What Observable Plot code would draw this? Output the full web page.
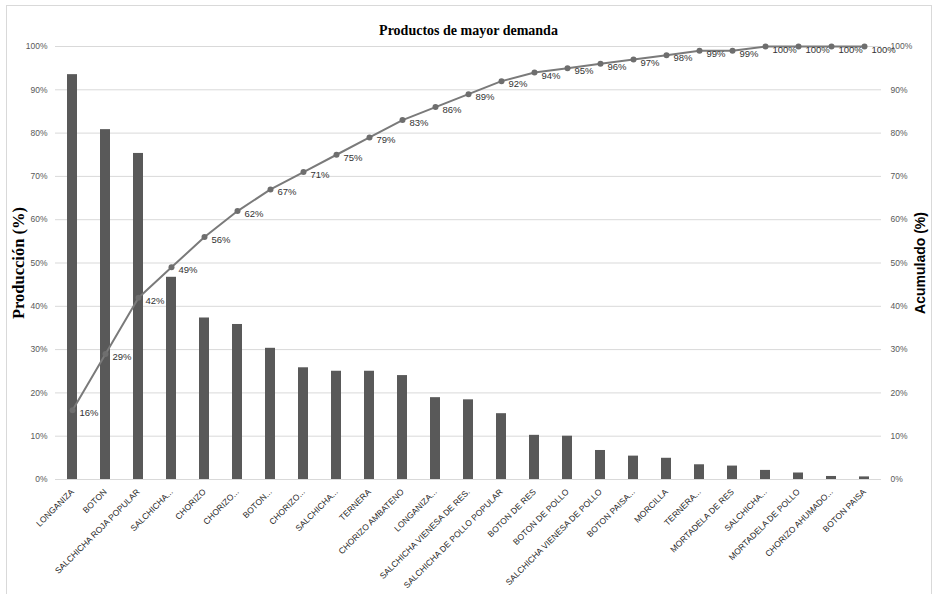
<!DOCTYPE html>
<html>
<head>
<meta charset="utf-8">
<script src="https://cdn.jsdelivr.net/npm/d3@7"></script>
<script src="https://cdn.jsdelivr.net/npm/@observablehq/plot@0.6"></script>
<style>
  html, body { margin: 0; padding: 0; background: #fff; }
  #wrap { position: relative; width: 935px; height: 594px; overflow: hidden; }
  #border { position: absolute; left: 6px; top: 5px; width: 926px; height: 600px; border: 1px solid #d9d9d9; box-sizing: border-box; pointer-events: none; }
  #chart { position: absolute; left: 0; top: 0; }
</style>
</head>
<body>
<div id="wrap">
  <div id="chart"></div>
  <div id="border"></div>
</div>
<script>
// Products ordered by production share (Pareto)
const categories = [
  "LONGANIZA", "BOTON", "SALCHICHA ROJA POPULAR", "SALCHICHA...", "CHORIZO",
  "CHORIZO...", "BOTON...", "CHORIZO...", "SALCHICHA...", "TERNERA",
  "CHORIZO AMBATENO", "LONGANIZA...", "SALCHICHA VIENESA DE RES.", "SALCHICHA DE POLLO POPULAR", "BOTON DE RES",
  "BOTON DE POLLO", "SALCHICHA VIENESA DE POLLO", "BOTON PAISA...", "MORCILLA", "TERNERA...",
  "MORTADELA DE RES", "SALCHICHA...", "MORTADELA DE POLLO", "CHORIZO AHUMADO...", "BOTON PAISA"
];

// Production (%) per product
const produccion = [
  93.5, 80.8, 75.3, 46.7, 37.3,
  35.8, 30.3, 25.8, 25.0, 25.0,
  24.0, 18.9, 18.4, 15.2, 10.2,
  10.0, 6.7, 5.4, 4.9, 3.4,
  3.1, 2.1, 1.5, 0.7, 0.6
];

// Cumulative share (%)
const acumulado = [
  16, 29, 42, 49, 56,
  62, 67, 71, 75, 79,
  83, 86, 89, 92, 94,
  95, 96, 97, 98, 99,
  99, 100, 100, 100, 100
];

const yTicks = [0, 10, 20, 30, 40, 50, 60, 70, 80, 90, 100];

const title = "Productos de mayor demanda";
const yLabelLeft = "Producción (%)";
const yLabelRight = "Acumulado (%)";

const rows = categories.map((name, i) => ({i, name, prod: produccion[i], acum: acumulado[i]}));
const pct = d => d + "%";
const tickFont = "'Liberation Sans Narrow', 'Liberation Sans', Arial, sans-serif";
const serif = "'Liberation Serif', 'Times New Roman', serif";

const chart = Plot.plot({
  width: 935,
  height: 594,
  marginLeft: 55,
  marginRight: 54,
  marginTop: 46,
  marginBottom: 115,
  style: {background: "#fff", color: "#595959"},
  x: {type: "band", domain: d3.range(categories.length), paddingInner: 0.7, paddingOuter: 0.35},
  y: {domain: [0, 100]},
  marks: [
    Plot.gridY(yTicks, {stroke: "#d9d9d9", strokeOpacity: 1, strokeWidth: 1}),
    Plot.axisY(yTicks, {anchor: "left", tickSize: 0, tickPadding: 8, tickFormat: pct, label: null,
      fontSize: 8.5, fontFamily: tickFont, fill: "#595959"}),
    Plot.axisY(yTicks, {anchor: "right", tickSize: 0, tickPadding: 9, tickFormat: pct, label: null,
      fontSize: 8.5, fontFamily: tickFont, fill: "#595959"}),
    Plot.axisX({tickSize: 0, tickPadding: 11, tickRotate: -45, label: null,
      tickFormat: i => categories[i], fontSize: 8.5, fontFamily: tickFont, fill: "#262626"}),
    Plot.barY(rows, {x: "i", y: "prod", fill: "#595959"}),
    Plot.line(rows, {x: "i", y: "acum", stroke: "#7a7a7a", strokeWidth: 2}),
    Plot.dot(rows, {x: "i", y: "acum", r: 3, fill: "#6e6e6e", stroke: "none"}),
    Plot.text(rows, {x: "i", y: "acum", text: d => pct(d.acum), textAnchor: "start", dx: 7, dy: 3,
      fontSize: 9.5, fontFamily: tickFont, fill: "#333333"}),
    Plot.text([title], {frameAnchor: "top", dy: -21, fontFamily: serif,
      fontWeight: "bold", fontSize: 14, fill: "#000"}),
    Plot.text([yLabelLeft], {frameAnchor: "left", textAnchor: "middle", dx: -37, rotate: -90, fontFamily: serif,
      fontWeight: "bold", fontSize: 16.5, fill: "#000"}),
    Plot.text([yLabelRight], {frameAnchor: "right", textAnchor: "middle", dx: 39, rotate: -90,
      fontFamily: "'Liberation Sans', Arial, sans-serif", fontWeight: "bold", fontSize: 14, fill: "#000"})
  ]
});

document.getElementById("chart").appendChild(chart);
</script>
</body>
</html>
